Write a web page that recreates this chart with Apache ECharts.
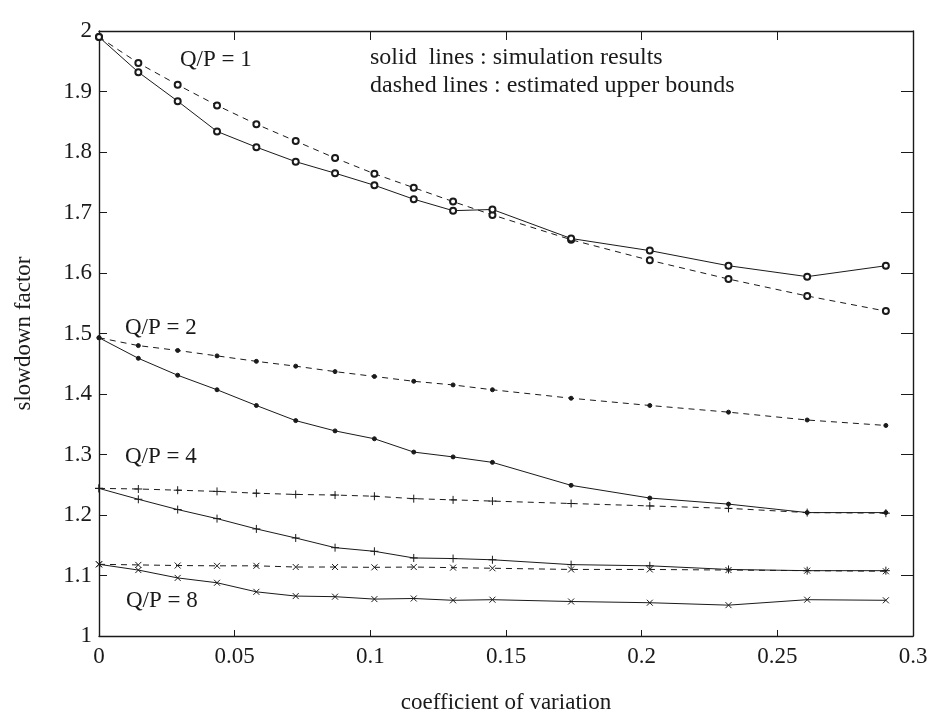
<!DOCTYPE html>
<html>
<head>
<meta charset="utf-8">
<title>slowdown factor</title>
<script src="https://cdn.jsdelivr.net/npm/echarts@6/dist/echarts.min.js"></script>
<style>
  html, body { margin: 0; padding: 0; background: #fff; }
  #chart { width: 931px; height: 720px; }
</style>
</head>
<body>
<div id="chart"></div>
<script>
// coefficient of variation (x positions of the measured points)
const cov = [0, 0.0145, 0.029, 0.0435, 0.058, 0.0725, 0.087, 0.1015, 0.116, 0.1305,
             0.145, 0.174, 0.203, 0.232, 0.261, 0.29];

// solid lines : simulation results
const sim1 = [1.99, 1.932, 1.884, 1.834, 1.808, 1.784, 1.765, 1.745, 1.722, 1.703,
              1.705, 1.657, 1.637, 1.612, 1.594, 1.612];
const sim2 = [1.493, 1.459, 1.431, 1.407, 1.381, 1.356, 1.339, 1.326, 1.304, 1.296,
              1.287, 1.249, 1.228, 1.218, 1.204, 1.204];
const sim4 = [1.244, 1.226, 1.209, 1.194, 1.177, 1.162, 1.146, 1.140, 1.129, 1.128,
              1.126, 1.118, 1.116, 1.110, 1.108, 1.108];
const sim8 = [1.1185, 1.109, 1.096, 1.088, 1.073, 1.066, 1.065, 1.061, 1.062, 1.059,
              1.060, 1.057, 1.055, 1.051, 1.060, 1.059];

// dashed lines : estimated upper bounds
const est1 = [1.99, 1.947, 1.911, 1.877, 1.846, 1.818, 1.790, 1.764, 1.741, 1.718,
              1.696, 1.655, 1.621, 1.590, 1.562, 1.537];
const est2 = [1.493, 1.480, 1.472, 1.463, 1.454, 1.446, 1.437, 1.429, 1.421, 1.415,
              1.407, 1.393, 1.381, 1.370, 1.357, 1.348];
const est4 = [1.244, 1.243, 1.241, 1.239, 1.236, 1.234, 1.233, 1.231, 1.227, 1.225,
              1.223, 1.219, 1.215, 1.211, 1.204, 1.203];
const est8 = [1.1185, 1.1175, 1.1165, 1.116, 1.116, 1.114, 1.114, 1.1135, 1.114, 1.113,
              1.112, 1.110, 1.110, 1.109, 1.108, 1.107];

const serif = '"Liberation Serif", "DejaVu Serif", serif';
const ink = '#1a1a1a';

const plusPath = 'path://M5,0L5,10M0,5L10,5';
const crossPath = 'path://M1,1L9,9M9,1L1,9';

const zip = (ys) => cov.map((x, i) => [x, ys[i]]);

const mk = (ys, dashed, symbol, size) => ({
  type: 'line',
  data: zip(ys),
  symbol: symbol,
  symbolSize: size,
  showSymbol: true,
  showAllSymbol: true,
  animation: false,
  lineStyle: { color: ink, width: 1, type: dashed ? [6, 5] : 'solid' },
  itemStyle: { color: ink, borderColor: ink, borderWidth: 1 },
  z: dashed ? 2 : 3
});

const chart = echarts.init(document.getElementById('chart'));

const axisCommon = (tickLen) => ({
  axisLine: { show: true, onZero: false, lineStyle: { color: ink, width: 1.4 } },
  splitLine: { show: false },
  axisTick: { show: true, inside: true, length: tickLen, lineStyle: { color: ink } }
});

const label = (text, x, y, size) => ({
  type: 'text', x: x, y: y,
  style: { text: text, font: size + 'px ' + serif, fill: ink, align: 'left', verticalAlign: 'middle' }
});

chart.setOption({
  backgroundColor: '#fff',
  animation: false,
  grid: { left: 99, right: 18, top: 31, bottom: 84 },
  xAxis: [
    Object.assign({
      type: 'value', min: 0, max: 0.3, interval: 0.05, position: 'bottom',
      axisLabel: { color: ink, fontFamily: serif, fontSize: 23, margin: 9 },
      name: 'coefficient of variation', nameLocation: 'middle', nameGap: 55,
      nameTextStyle: { color: ink, fontFamily: serif, fontSize: 23 }
    }, axisCommon(6)),
    Object.assign({
      type: 'value', min: 0, max: 0.3, interval: 0.05, position: 'top',
      axisLabel: { show: false }
    }, axisCommon(9))
  ],
  yAxis: [
    Object.assign({
      type: 'value', min: 1, max: 2, interval: 0.1, position: 'left',
      axisLabel: {
        color: ink, fontFamily: serif, fontSize: 23, margin: 7,
        formatter: (v) => String(Math.round(v * 10) / 10)
      },
      name: 'slowdown factor', nameLocation: 'middle', nameGap: 64, nameRotate: 90,
      nameTextStyle: { color: ink, fontFamily: serif, fontSize: 23 }
    }, axisCommon(8)),
    Object.assign({
      type: 'value', min: 1, max: 2, interval: 0.1, position: 'right',
      axisLabel: { show: false }
    }, axisCommon(12))
  ],
  graphic: [
    label('Q/P = 1', 180, 60, 23),
    label('Q/P = 2', 125, 328, 23),
    label('Q/P = 4', 125, 457, 23),
    label('Q/P = 8', 126, 601, 23),
    label('solid  lines : simulation results', 370, 58, 24),
    label('dashed lines : estimated upper bounds', 370, 86, 24)
  ],
  series: [
    mk(est1, true, 'emptyCircle', 6),
    mk(sim1, false, 'emptyCircle', 6),
    mk(est2, true, 'circle', 4),
    mk(sim2, false, 'circle', 4),
    mk(est4, true, plusPath, 8),
    mk(sim4, false, plusPath, 8),
    mk(est8, true, crossPath, 6),
    mk(sim8, false, crossPath, 6)
  ]
});
</script>
</body>
</html>
